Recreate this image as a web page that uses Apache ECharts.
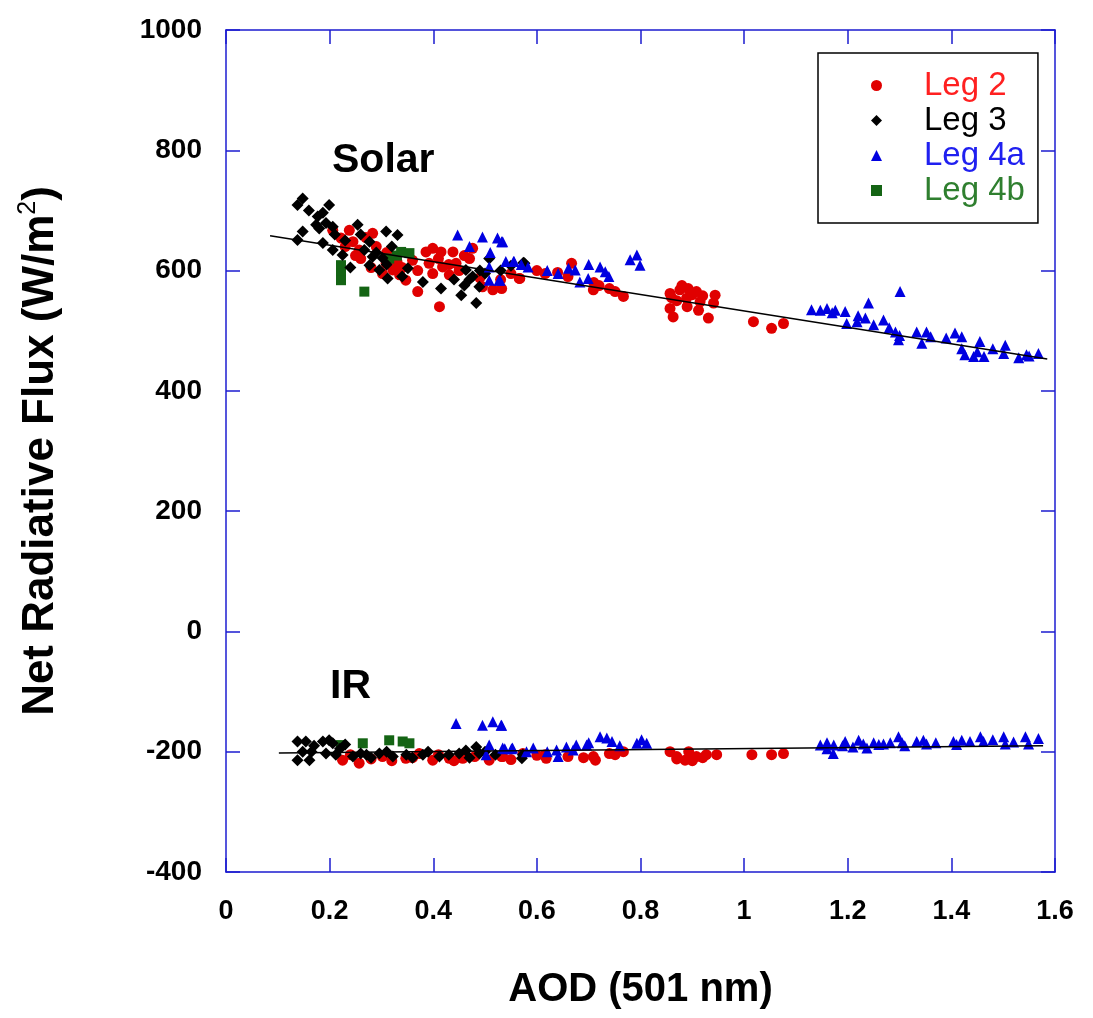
<!DOCTYPE html>
<html>
<head>
<meta charset="utf-8">
<script src="https://cdn.jsdelivr.net/npm/echarts@6/dist/echarts.min.js"></script>
<style>html,body{margin:0;padding:0;background:#fff}#c{width:1093px;height:1018px}</style>
</head>
<body>
<div id="c"></div>
<script>
// ---- data (AOD at 501 nm, net radiative flux W/m2) ----
var xTicks = [0, 0.2, 0.4, 0.6, 0.8, 1, 1.2, 1.4, 1.6];
var yTicks = [-400, -200, 0, 200, 400, 600, 800, 1000];

var leg2Solar = [[0.206,667],[0.238,667],[0.222,654],[0.245,648],[0.283,662],[0.257,634],[0.309,612],[0.322,601],[0.302,595],[0.335,593],[0.386,631],[0.399,637],[0.415,631],[0.438,631],[0.392,612],[0.418,606],[0.444,612],[0.399,595],[0.431,593],[0.476,637],[0.370,565],[0.412,540],[0.495,573],[0.515,568],[0.566,587],[0.360,617],[0.347,584],[0.532,570],[0.567,587],[0.616,595],[0.667,612],[0.709,568],[0.751,565],[0.767,557],[0.857,562],[0.876,568],[0.892,570],[0.908,565],[0.889,554],[0.915,548],[0.857,537],[0.863,523],[0.912,534],[0.931,521],[0.944,559],[0.941,546],[1.018,515],[1.053,504],[1.076,512],[0.27,655],[0.29,640],[0.26,620],[0.34,605],[0.45,600],[0.47,620],[0.64,597],[0.72,575],[0.88,575],[0.90,560],[0.87,550],[0.23,640],[0.25,625],[0.28,605],[0.31,630],[0.33,615],[0.37,600],[0.41,620],[0.43,610],[0.46,625],[0.49,588],[0.53,585],[0.55,595],[0.60,600],[0.66,590],[0.71,580],[0.74,570],[0.86,555],[0.89,540],[0.92,558]];
var leg3Solar = [[0.148,720],[0.138,709],[0.199,709],[0.187,696],[0.177,690],[0.193,679],[0.174,676],[0.206,673],[0.254,676],[0.148,665],[0.138,651],[0.187,646],[0.206,634],[0.225,626],[0.277,648],[0.267,634],[0.283,623],[0.277,609],[0.302,621],[0.309,665],[0.331,659],[0.296,601],[0.312,587],[0.351,604],[0.380,581],[0.415,570],[0.454,559],[0.483,546],[0.463,601],[0.476,590],[0.489,573],[0.508,620],[0.576,612],[0.574,613],[0.29,630],[0.32,640],[0.47,585],[0.49,600],[0.16,700],[0.18,670],[0.21,660],[0.23,650],[0.26,660],[0.24,605],[0.31,610],[0.34,590],[0.44,585],[0.46,575],[0.50,595],[0.53,600],[0.55,608]];
var leg4aSolar = [[0.447,659],[0.495,656],[0.524,654],[0.534,648],[0.508,606],[0.508,584],[0.527,584],[0.540,615],[0.556,615],[0.532,648],[0.555,615],[0.583,606],[0.641,595],[0.661,604],[0.674,601],[0.683,581],[0.699,587],[0.722,606],[0.732,598],[0.739,590],[0.793,626],[0.799,609],[0.529,584],[1.160,537],[1.147,534],[1.176,534],[1.195,532],[1.198,512],[1.218,515],[1.240,546],[1.234,521],[1.269,518],[1.301,565],[1.292,498],[1.298,485],[1.333,498],[1.352,498],[1.343,479],[1.407,496],[1.420,490],[1.455,482],[1.426,460],[1.443,457],[1.463,457],[1.504,476],[1.501,462],[1.545,460],[1.568,462],[0.47,640],[0.51,630],[0.57,610],[0.62,600],[0.70,610],[0.78,618],[1.13,535],[1.17,530],[1.22,525],[1.25,510],[1.28,505],[1.30,492],[1.36,490],[1.39,488],[1.42,470],[1.45,465],[1.48,470],[1.53,455],[1.55,458]];
var leg4bSolar = [[0.222,609],[0.222,595],[0.222,584],[0.267,565],[0.338,631],[0.354,629],[0.315,620],[0.33,625]];

var leg2IR = [[0.225,-214],[0.257,-219],[0.302,-208],[0.347,-211],[0.373,-203],[0.399,-214],[0.431,-211],[0.457,-211],[0.508,-214],[0.534,-208],[0.573,-203],[0.532,-208],[0.616,-205],[0.618,-211],[0.709,-208],[0.713,-214],[0.751,-205],[0.767,-200],[0.857,-200],[0.870,-208],[0.886,-214],[0.908,-208],[0.927,-205],[0.947,-205],[0.893,-200],[1.015,-205],[1.053,-205],[1.076,-203],[0.24,-205],[0.28,-212],[0.32,-215],[0.36,-210],[0.41,-205],[0.44,-215],[0.48,-208],[0.55,-213],[0.60,-206],[0.66,-208],[0.69,-210],[0.74,-203],[0.87,-212],[0.90,-215],[0.92,-210]];
var leg3IR = [[0.138,-183],[0.154,-183],[0.138,-214],[0.161,-214],[0.148,-200],[0.187,-183],[0.199,-181],[0.206,-186],[0.193,-203],[0.212,-205],[0.245,-208],[0.271,-205],[0.296,-203],[0.322,-208],[0.348,-205],[0.380,-205],[0.412,-208],[0.450,-203],[0.463,-198],[0.483,-192],[0.489,-203],[0.573,-205],[0.571,-211],[0.22,-195],[0.26,-203],[0.28,-210],[0.31,-200],[0.36,-210],[0.39,-200],[0.43,-205],[0.47,-210],[0.50,-200],[0.52,-205],[0.23,-188],[0.17,-190],[0.165,-200]];
var leg4aIR = [[0.444,-153],[0.495,-156],[0.515,-150],[0.531,-156],[0.508,-189],[0.502,-205],[0.534,-194],[0.553,-194],[0.532,-156],[0.538,-195],[0.551,-195],[0.593,-194],[0.638,-197],[0.657,-192],[0.676,-189],[0.696,-189],[0.722,-175],[0.735,-177],[0.745,-183],[0.793,-186],[0.802,-180],[0.812,-186],[0.641,-208],[1.147,-189],[1.160,-185],[1.173,-189],[1.172,-203],[1.195,-183],[1.221,-181],[1.230,-187],[1.237,-194],[1.250,-185],[1.269,-187],[1.282,-185],[1.298,-175],[1.305,-185],[1.333,-183],[1.346,-181],[1.352,-187],[1.404,-183],[1.420,-181],[1.436,-183],[1.456,-175],[1.462,-183],[1.501,-175],[1.504,-187],[1.543,-175],[1.549,-187],[1.568,-178],[0.58,-200],[0.62,-200],[0.67,-197],[0.70,-185],[0.76,-190],[1.19,-190],[1.26,-188],[1.31,-190],[1.37,-185],[1.41,-188],[1.48,-180],[1.52,-184],[1.21,-192],[1.16,-195]];
var leg4bIR = [[0.222,-189],[0.264,-186],[0.315,-181],[0.341,-183],[0.354,-186]];

var solarFit = [[0.085,658],[1.585,453]];
var irFit = [[0.102,-202],[1.577,-190]];

var legNames = ['Leg 2', 'Leg 3', 'Leg 4a', 'Leg 4b'];
var legColors = ['#e00000', '#000000', '#0000e0', '#146414'];
var legTextColors = ['#ff2020', '#000000', '#2020f0', '#2f7f2f'];
var legSymbols = ['circle', 'diamond', 'triangle', 'rect'];
var legSizes = [11, 12, 11, 10];

var AX = '#1c1cd0';
var FONT = 'Liberation Sans, Arial, sans-serif';

var chart = echarts.init(document.getElementById('c'), null, {renderer: 'canvas'});

function sc(i, data) {
  return {
    name: legNames[i], type: 'scatter', data: data,
    symbol: legSymbols[i], symbolSize: legSizes[i],
    itemStyle: {color: legColors[i], opacity: 1},
    z: 2
  };
}
var order = [0, 3, 1, 2];
var solarSets = [leg2Solar, leg3Solar, leg4aSolar, leg4bSolar];
var irSets = [leg2IR, leg3IR, leg4aIR, leg4bIR];
var series = [];
order.forEach(function (i) { series.push(sc(i, solarSets[i])); series.push(sc(i, irSets[i])); });
[solarFit, irFit].forEach(function (f) {
  series.push({type: 'line', data: f, symbol: 'none', lineStyle: {color: '#000', width: 1.5}, z: 5, silent: true});
});

var axCommon = {
  axisLine: {show: true, onZero: false, lineStyle: {color: AX, width: 1.5}},
  axisTick: {show: true, inside: true, length: 14, lineStyle: {color: AX, width: 1.5}},
  splitLine: {show: false}
};

chart.setOption({
  animation: false,
  backgroundColor: '#fff',
  grid: {left: 226, top: 30, right: 38, bottom: 146, show: false},
  legend: {
    data: legNames.map(function (n, i) {
      return {name: n, icon: legSymbols[i], textStyle: {color: legTextColors[i]}};
    }),
    orient: 'vertical', left: 818, top: 53,
    itemWidth: 11, itemHeight: 11, itemGap: 2,
    padding: [16, 13, 16, 53],
    borderColor: '#000', borderWidth: 1.5,
    textStyle: {fontFamily: FONT, fontSize: 33, lineHeight: 30, padding: [0, 0, 0, 37]},
    selectedMode: false
  },
  xAxis: [
    Object.assign({}, axCommon, {
      type: 'value', min: 0, max: 1.6, interval: 0.2, position: 'bottom',
      name: 'AOD (501 nm)', nameLocation: 'middle', nameGap: 98,
      nameTextStyle: {fontFamily: FONT, fontWeight: 'bold', fontSize: 40, color: '#000'},
      axisLabel: {margin: 26, fontFamily: FONT, fontWeight: 'bold', fontSize: 27, color: '#000',
        formatter: function (v) { var s = Math.round(v * 10) / 10; return xTicks.indexOf(s) >= 0 ? String(s) : ''; }}
    }),
    Object.assign({}, axCommon, {
      type: 'value', min: 0, max: 1.6, interval: 0.2, position: 'top', axisLabel: {show: false}
    })
  ],
  yAxis: [
    Object.assign({}, axCommon, {
      type: 'value', min: -400, max: 1000, interval: 200, position: 'left',
      name: 'Net Radiative Flux (W/m{sup|2})', nameLocation: 'middle', nameGap: 160, nameRotate: 90,
      nameTextStyle: {fontFamily: FONT, fontWeight: 'bold', fontSize: 44, color: '#000',
        rich: {sup: {fontFamily: FONT, fontSize: 25, fontWeight: 'normal', verticalAlign: 'top', padding: [0, 0, 25, 0], color: '#000'}}},
      axisLabel: {margin: 24, fontFamily: FONT, fontWeight: 'bold', fontSize: 28, color: '#000',
        formatter: function (v) { return yTicks.indexOf(v) >= 0 ? String(v) : ''; }}
    }),
    Object.assign({}, axCommon, {
      type: 'value', min: -400, max: 1000, interval: 200, position: 'right', axisLabel: {show: false}
    })
  ],
  graphic: [
    {type: 'text', left: 332, top: 140, style: {text: 'Solar', font: 'bold 41px ' + FONT, fill: '#000'}},
    {type: 'text', left: 330, top: 666, style: {text: 'IR', font: 'bold 41px ' + FONT, fill: '#000'}}
  ],
  series: series
});
</script>
</body>
</html>
